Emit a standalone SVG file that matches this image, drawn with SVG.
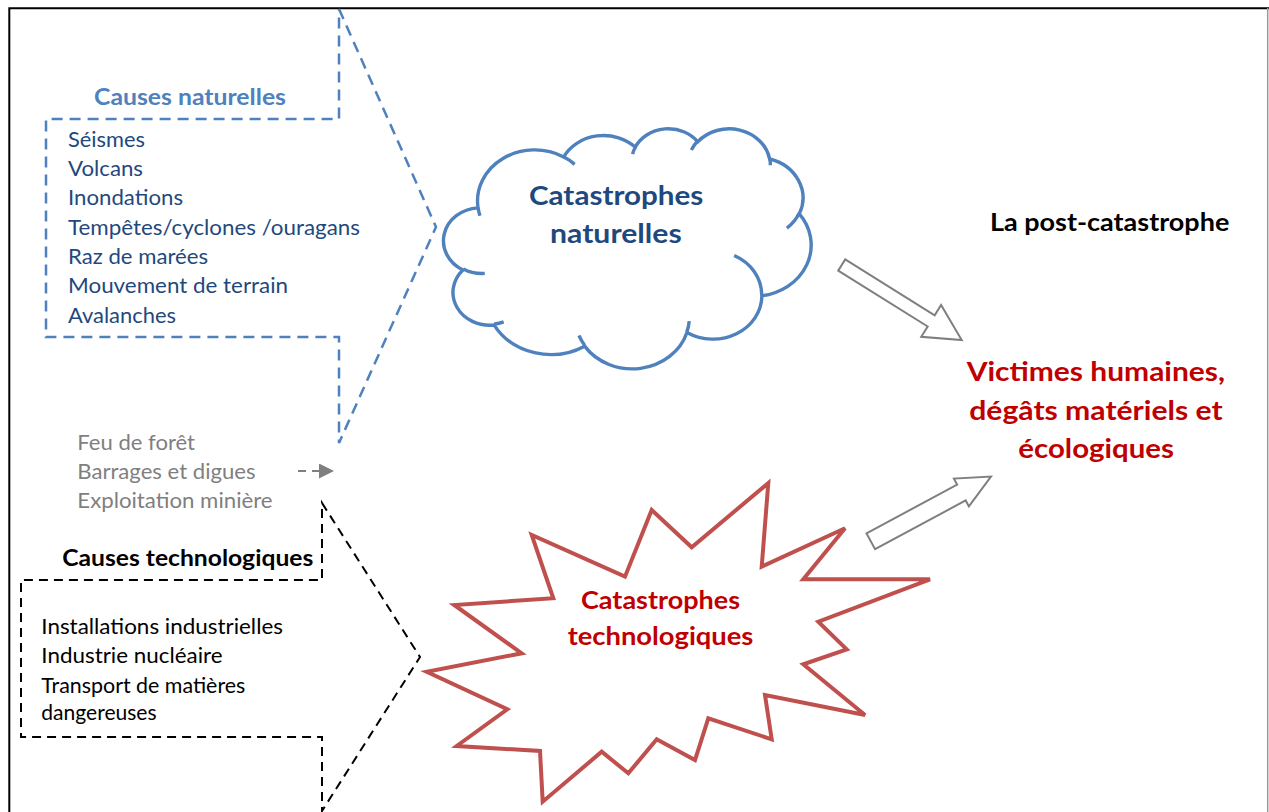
<svg xmlns="http://www.w3.org/2000/svg" width="1269" height="812" viewBox="0 0 1269 812">
<style>
text{font-family:Lato,"Liberation Sans",sans-serif}
.item{font-size:21px;fill:#1f497d}
.hdrb{font-size:22.5px;font-weight:bold;fill:#4f81bd}
.grey{font-size:21px;fill:#7f7f7f}
.hdrk{font-size:22.5px;font-weight:bold;fill:#000}
.itemk{font-size:20.5px;fill:#000}
.cloudt{font-size:27.5px;font-weight:bold;fill:#1f497d}
.redt{font-size:24.5px;font-weight:bold;fill:#c00000}
.post{font-size:25px;font-weight:bold;fill:#000}
.vict{font-size:27.5px;font-weight:bold;fill:#c00000}
.blk{fill:#fff;stroke:#7f7f7f;stroke-width:2;stroke-linejoin:miter}
.dashb{fill:none;stroke:#4f81bd;stroke-width:2.5;stroke-dasharray:11 7}
.dashk{fill:none;stroke:#000;stroke-width:2;stroke-dasharray:9 6}
</style>
<defs>
<marker id="tri" viewBox="0 0 15 15" refX="1" refY="7.5" markerWidth="15" markerHeight="15" markerUnits="userSpaceOnUse" orient="auto">
<path d="M0 0 L15 7.5 L0 15 Z" fill="#7f7f7f"/>
</marker>
</defs>
<rect width="1269" height="812" fill="#fff"/>
<g id="frame">
<path d="M9.3 812 V8.3 H1269" fill="none" stroke="#000" stroke-width="2"/>
<line x1="1267.7" y1="8" x2="1267.7" y2="812" stroke="#9a9a9a" stroke-width="1.5"/>
</g>

<g id="causes-naturelles">
<path class="dashb" d="M339 9 L436 227 L339 443 V337 H46 V119 H339 Z"/>
<text class="hdrb" x="94" y="105" textLength="192" lengthAdjust="spacingAndGlyphs">Causes naturelles</text>
<text class="item" x="68" y="146.7" textLength="77" lengthAdjust="spacingAndGlyphs">Séismes</text>
<text class="item" x="68" y="176" textLength="75" lengthAdjust="spacingAndGlyphs">Volcans</text>
<text class="item" x="68" y="205.3" textLength="115" lengthAdjust="spacingAndGlyphs">Inondations</text>
<text class="item" x="68" y="234.7" textLength="292" lengthAdjust="spacingAndGlyphs">Tempêtes/cyclones /ouragans</text>
<text class="item" x="68" y="264" textLength="140" lengthAdjust="spacingAndGlyphs">Raz de marées</text>
<text class="item" x="68" y="293.3" textLength="220" lengthAdjust="spacingAndGlyphs">Mouvement de terrain</text>
<text class="item" x="68" y="322.7" textLength="108" lengthAdjust="spacingAndGlyphs">Avalanches</text>
</g>

<g id="causes-mixtes">
<text class="grey" x="77.3" y="450" textLength="117.7" lengthAdjust="spacingAndGlyphs">Feu de forêt</text>
<text class="grey" x="77.3" y="479.3" textLength="178.3" lengthAdjust="spacingAndGlyphs">Barrages et digues</text>
<text class="grey" x="77.3" y="508.3" textLength="195.3" lengthAdjust="spacingAndGlyphs">Exploitation minière</text>
</g>

<g id="causes-technologiques">
<path class="dashk" d="M322 503 L420 657 L322 811 V737 H21 V580 H322 Z"/>
<text class="hdrk" x="62.3" y="565.7" textLength="251" lengthAdjust="spacingAndGlyphs">Causes technologiques</text>
<text class="itemk" x="41.3" y="634.3" textLength="241.7" lengthAdjust="spacingAndGlyphs">Installations industrielles</text>
<text class="itemk" x="41.3" y="663.3" textLength="181.3" lengthAdjust="spacingAndGlyphs">Industrie nucléaire</text>
<text class="itemk" x="41.3" y="692.7" textLength="204" lengthAdjust="spacingAndGlyphs">Transport de matières</text>
<text class="itemk" x="41.3" y="720" textLength="115.3" lengthAdjust="spacingAndGlyphs">dangereuses</text>
</g>

<g id="catastrophes-naturelles">
<g transform="translate(445 128) scale(0.0084722 0.0055556)" fill="none" stroke="#4f81bd" stroke-width="3.4" stroke-linecap="butt">
<path vector-effect="non-scaling-stroke" fill="#fff" d="M3900 14370 A6753 9190 0 0 1 14004.5 5201.7 A5333 7267 0 0 1 22455.2 3432 A4365 5945 0 0 1 29832.1 2480.6 A4857 6595 0 0 1 38317.5 5575.5 A5333 7273 0 0 1 41818 15459 A6775 9220 0 0 1 37404.1 30202.8 A5785 7867 0 0 1 28555.6 36812.9 A6752 9215 0 0 1 16480.3 39265.1 A7720 10543 0 0 1 5806.2 35470.3 A4360 5918 0 0 1 2115.3 25547.9 A4345 5945 0 0 1 3900 14370 Z"/>
<path vector-effect="non-scaling-stroke" d="M4693 26177 A4345 5945 0 0 1 2160 25380 M6928 34899 A4360 5918 0 0 1 5819 35281 M16478 39090 A6752 9215 0 0 1 15810 37348 M28827 34751 A6752 9215 0 0 1 28560 36660 M34129 22954 A5785 7867 0 0 1 37380 30089 M41798 15354 A5333 7273 0 0 1 40350 18029 M38324 5426 A4857 6595 0 0 1 38400 6690 M29078 3952 A4857 6595 0 0 1 29820 2339 M22141 4720 A4365 5945 0 0 1 22500 3330 M14000 5192 A6753 9190 0 0 1 15301 6542 M4127 15789 A6753 9190 0 0 1 3900 14371"/>
</g>
<text class="cloudt" x="529" y="205" textLength="174.3" lengthAdjust="spacingAndGlyphs">Catastrophes</text>
<text class="cloudt" x="550" y="243.3" textLength="131.7" lengthAdjust="spacingAndGlyphs">naturelles</text>
</g>

<g id="catastrophes-technologiques">
<polygon fill="#fff" stroke="#c0504d" stroke-width="4" stroke-linejoin="miter" points="768.3,483 761.7,566.7 845,528.3 803.3,579.3 930,579.3 818.3,621.7 846.7,649.3 803.3,664.3 865,715 765,695 771.7,739.3 708.3,718.3 695,760 656.7,739.3 628.3,773.3 601.7,751.7 542.7,801.7 540,751 456.7,746 507.3,709.3 426.7,671.7 521.7,653.3 454.3,605 553.3,598.3 531.7,535 625,576.7 651.7,510 691.7,547.3"/>
<text class="redt" x="581" y="609.3" textLength="159" lengthAdjust="spacingAndGlyphs">Catastrophes</text>
<text class="redt" x="567.7" y="645" textLength="185.7" lengthAdjust="spacingAndGlyphs">technologiques</text>
</g>

<g id="post-catastrophe">
<text class="post" x="990" y="230.7" textLength="239.3" lengthAdjust="spacingAndGlyphs">La post-catastrophe</text>
</g>

<g id="consequences">
<text class="vict" x="966.7" y="381" textLength="258.3" lengthAdjust="spacingAndGlyphs">Victimes humaines,</text>
<text class="vict" x="969.3" y="420" textLength="253.3" lengthAdjust="spacingAndGlyphs">dégâts matériels et</text>
<text class="vict" x="1018.3" y="458.3" textLength="155.7" lengthAdjust="spacingAndGlyphs">écologiques</text>
</g>

<g id="connectors">
<polygon class="blk" transform="translate(841.7 265) rotate(32)" points="0,-6.6 105.5,-6.6 105.5,-18.7 141.5,0 105.5,18.7 105.5,6.6 0,6.6"/>
<polygon class="blk" transform="translate(870.8 541.3) rotate(-28.3)" points="0,-9 102.9,-9 102.9,-15.8 136.5,0 102.9,15.8 102.9,9 0,9"/>
<path d="M298 471 H320" fill="none" stroke="#7f7f7f" stroke-width="2" stroke-dasharray="8 6" marker-end="url(#tri)"/>
</g>
</svg>
